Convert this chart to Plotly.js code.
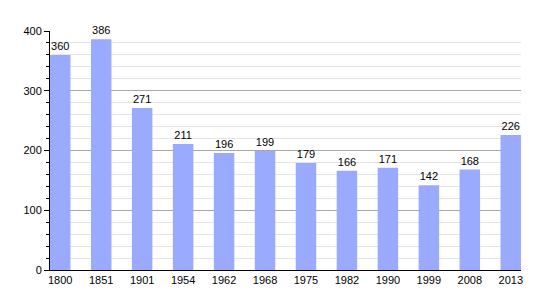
<!DOCTYPE html>
<html><head><meta charset="utf-8">
<script src="https://cdn.plot.ly/plotly-3.0.1.min.js"></script>
<style>html,body{margin:0;padding:0;background:#fff}#chart{width:550px;height:300px}</style>
</head><body><div id="chart"></div>
<script>
const years = ["1800","1851","1901","1954","1962","1968","1975","1982","1990","1999","2008","2013"];
const population = [360,386,271,211,196,199,179,166,171,142,168,226];
const yTicks = [0,100,200,300,400];

Plotly.newPlot('chart', [{
  type: 'bar',
  x: years,
  y: population,
  width: 0.5,
  marker: {color: '#99aaff'},
  text: population.map(String),
  textposition: 'outside',
  cliponaxis: false,
  textfont: {family: 'Liberation Sans, Arial, sans-serif', size: 11, color: '#000'},
  hoverinfo: 'none'
}], {
  width: 550, height: 300,
  margin: {l: 50, r: 29, t: 31, b: 30},
  paper_bgcolor: '#fff', plot_bgcolor: '#fff',
  showlegend: false,
  font: {family: 'Liberation Sans, Arial, sans-serif', size: 11, color: '#000'},
  xaxis: {
    type: 'category', range: [-0.25, 11.25],
    showline: true, linecolor: '#000', linewidth: 1,
    ticks: '', showgrid: false, tickfont: {size: 11}
  },
  yaxis: {
    range: [0, 400], tickvals: yTicks, ticktext: yTicks.map(String),
    showline: true, linecolor: '#000', linewidth: 1,
    ticks: 'outside', ticklen: 5, tickcolor: '#000',
    gridcolor: '#a8a8a8', gridwidth: 1, zeroline: false,
    minor: {dtick: 20, showgrid: true, gridcolor: '#e4e4e4', ticks: 'outside', ticklen: 3, tickcolor: '#000'},
    tickfont: {size: 11}
  }
}, {staticPlot: true});
</script></body></html>
